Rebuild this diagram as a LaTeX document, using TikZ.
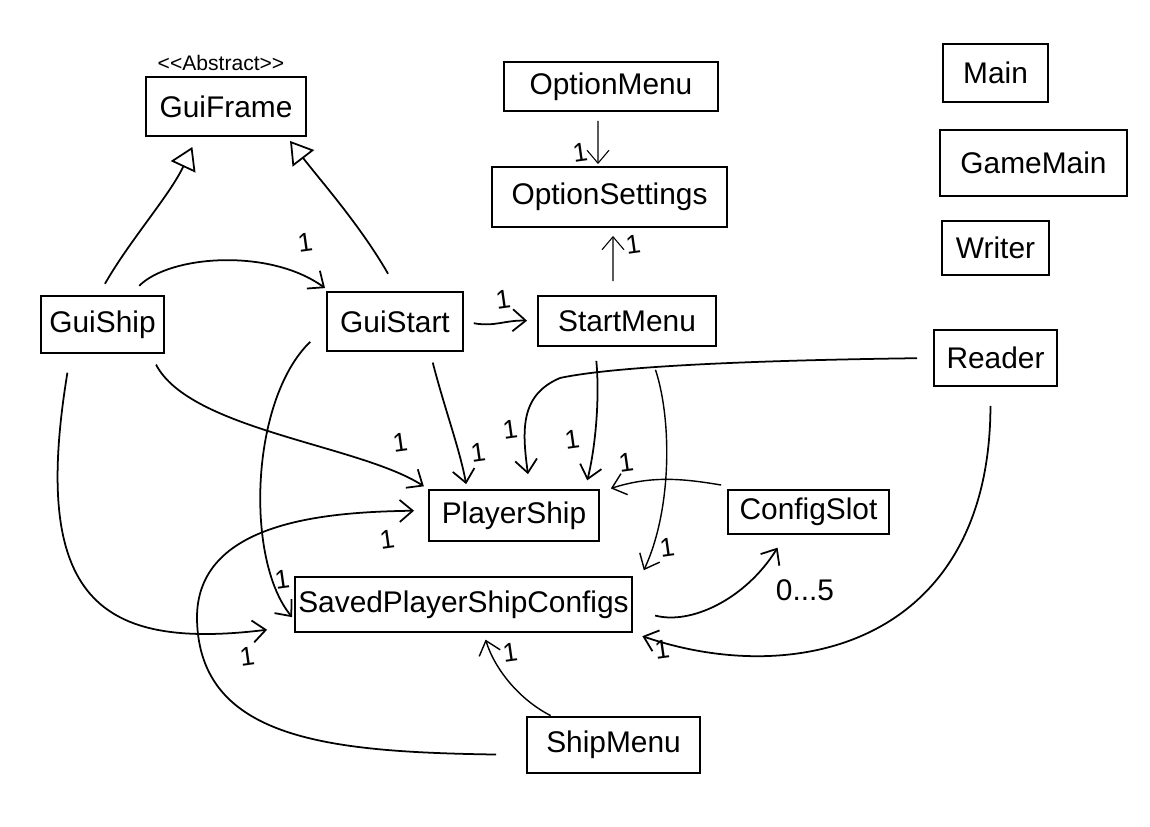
\documentclass[tikz,border=0pt]{standalone}
\usepackage{fontspec}
\setmainfont{Liberation Sans}
\usetikzlibrary{arrows.meta}

\tikzset{
  cls/.style={draw, line width=1.1pt, inner sep=1pt, font=\fontsize{17}{20}\selectfont},
  assoc/.style={line width=1pt, -{Straight Barb[length=2.6mm, width=4.4mm]}},
  inherit/.style={line width=1pt, -{Triangle[open, length=4.4mm, width=5.4mm]}},
  mult/.style={font=\fontsize{15}{18}\selectfont, rotate=8, inner sep=0pt},
}

\begin{document}
\begin{tikzpicture}[x=0.02cm, y=-0.02cm]
    \useasboundingbox (0,0) rectangle (1150,827);

    % classes
    \node[cls, minimum width=3.2cm, minimum height=1.18cm] (guiframe) at (226,106.5) {GuiFrame};
    \node[font=\fontsize{12}{14}\selectfont, inner sep=0pt] (abstract) at (221,63) {{<}{<}Abstract{>}{>}};
    \node[cls, minimum width=4.28cm, minimum height=0.98cm] (optionmenu) at (611,86.5) {OptionMenu};
    \node[cls, minimum width=4.7cm, minimum height=1.2cm] (optionsettings) at (609.5,197) {OptionSettings};
    \node[cls, minimum width=2.1cm, minimum height=1.16cm] (main) at (995.5,73) {Main};
    \node[cls, minimum width=3.74cm, minimum height=1.32cm] (gamemain) at (1033.5,163) {GameMain};
    \node[cls, minimum width=2.14cm, minimum height=1.08cm] (writer) at (995.5,248) {Writer};
    \node[cls, minimum width=2.46cm, minimum height=1.14cm] (guiship) at (102.5,324.5) {GuiShip};
    \node[cls, minimum width=2.72cm, minimum height=1.18cm] (guistart) at (395,321.5) {GuiStart};
    \node[cls, minimum width=3.56cm, minimum height=1.0cm] (startmenu) at (627,321) {StartMenu};
    \node[cls, minimum width=2.46cm, minimum height=1.12cm] (reader) at (995.5,358) {Reader};
    \node[cls, minimum width=3.4cm, minimum height=1.02cm] (playership) at (514,515.5) {PlayerShip};
    \node[cls, minimum width=3.22cm, minimum height=0.88cm] (configslot) at (808.5,512) {ConfigSlot};
    \node[cls, minimum width=6.74cm, minimum height=1.1cm] (saved) at (463.5,604.5) {SavedPlayerShipConfigs};
    \node[cls, minimum width=3.46cm, minimum height=1.12cm] (shipmenu) at (613.5,745) {ShipMenu};

    % vererbung
    \draw[inherit, shorten <=0.26cm, shorten >=0.22cm]
        ([xshift=-0.08cm]guiship.north) .. controls (130,240) and (170,195) .. ([xshift=-0.58cm]guiframe.south);
    \draw[inherit, shorten <=0.4cm, shorten >=0.1cm]
        ([xshift=0.06cm]guistart.north) .. controls (360,225) and (320,180) .. ([xshift=1.22cm]guiframe.south);

    % assoziationen
    \draw[assoc, shorten <=0.26cm, shorten >=0.1cm]
        ([xshift=0.55cm]guiship.north) .. controls (170,255) and (270,248) .. ([xshift=0.06cm]guistart.north west);
    \draw[assoc, shorten <=0.2cm, shorten >=0.2cm]
        (guistart.east) .. controls (495,327) and (505,320) .. (startmenu.west);
    \draw[assoc, line width=0.6pt, shorten <=0.18cm, shorten >=0.04cm]
        ([xshift=-0.26cm]optionmenu.south) -- ([xshift=-0.23cm]optionsettings.north);
    \draw[assoc, line width=0.6pt, shorten <=0.28cm, shorten >=0.16cm]
        ([xshift=-0.28cm]startmenu.north) -- ([xshift=0.07cm]optionsettings.south);
    \draw[assoc, shorten <=0.24cm, shorten >=0.1cm]
        ([xshift=0.96cm]guiship.south) .. controls (190,430) and (360,445) .. (playership.north west);
    \draw[assoc, shorten <=0.22cm, shorten >=0.1cm]
        ([xshift=0.7cm]guistart.south) .. controls (445,410) and (460,450) .. ([xshift=-0.94cm]playership.north);
    \draw[assoc, shorten <=0.28cm, shorten >=0.18cm]
        ([xshift=-0.64cm]startmenu.south) .. controls (600,400) and (595,450) .. ([xshift=1.42cm]playership.north);
    \draw[assoc, shorten <=0.32cm, shorten >=0.3cm]
        (reader.west) .. controls (780,360) and (620,365) .. (560,378)
        .. controls (520,395) and (522,430) .. ([xshift=0.32cm]playership.north);
    \draw[assoc, line width=0.8pt, shorten <=0.48cm, shorten >=0.04cm]
        ([xshift=0.42cm]startmenu.south) .. controls (672,420) and (672,510) .. ([xshift=0.2cm, yshift=0.08cm]saved.north east);
    \draw[assoc, line width=0.8pt, shorten <=0.12cm, shorten >=0.04cm]
        ([yshift=0.06cm]configslot.north west) .. controls (680,478) and (650,476) .. ([xshift=0.18cm]playership.north east);
    \draw[assoc, shorten <=0.44cm, shorten >=0.06cm]
        ([yshift=-0.1cm]guistart.west) .. controls (250,400) and (245,560) .. ([yshift=-0.3cm]saved.west);
    \draw[assoc, shorten <=0.38cm, shorten >=0.04cm]
        ([xshift=-0.64cm]guiship.south) .. controls (30,600) and (100,650) .. ([xshift=-0.5cm, yshift=-0.5cm]saved.west);
    \draw[assoc, shorten <=0.6cm, shorten >=0.28cm]
        ([yshift=-0.2cm]shipmenu.west) .. controls (330,752) and (200,740) .. (197,620)
        .. controls (195,520) and (330,512) .. ([yshift=0.1cm]playership.west);
    \draw[assoc, line width=0.8pt, shorten <=0.02cm, shorten >=0.14cm]
        ([xshift=-1.24cm]shipmenu.north) .. controls (520,700) and (495,670) .. ([xshift=0.4cm]saved.south);
    \draw[assoc, shorten <=0.46cm, shorten >=0.3cm]
        ([yshift=-0.1cm]saved.east) .. controls (690,625) and (745,600) .. ([xshift=-0.46cm]configslot.south);
    \draw[assoc, shorten <=0.38cm, shorten >=0.2cm]
        ([xshift=-0.1cm]reader.south) .. controls (990,640) and (800,690) .. (saved.south east);

    % multiplizitaeten
    \foreach \mx/\my [count=\i] in {305/243, 503/300, 580/153, 633/245, 400/443, 478/453,
                                    510/430, 572/440, 626/463, 387/540, 667/548, 282/580,
                                    247/657, 510/653, 662/650}
        \node[mult] (one-\i) at (\mx,\my) {1};
    \node[font=\fontsize{17}{20}\selectfont, inner sep=0pt] (range) at (805,590) {0...5};

\end{tikzpicture}
\end{document}
